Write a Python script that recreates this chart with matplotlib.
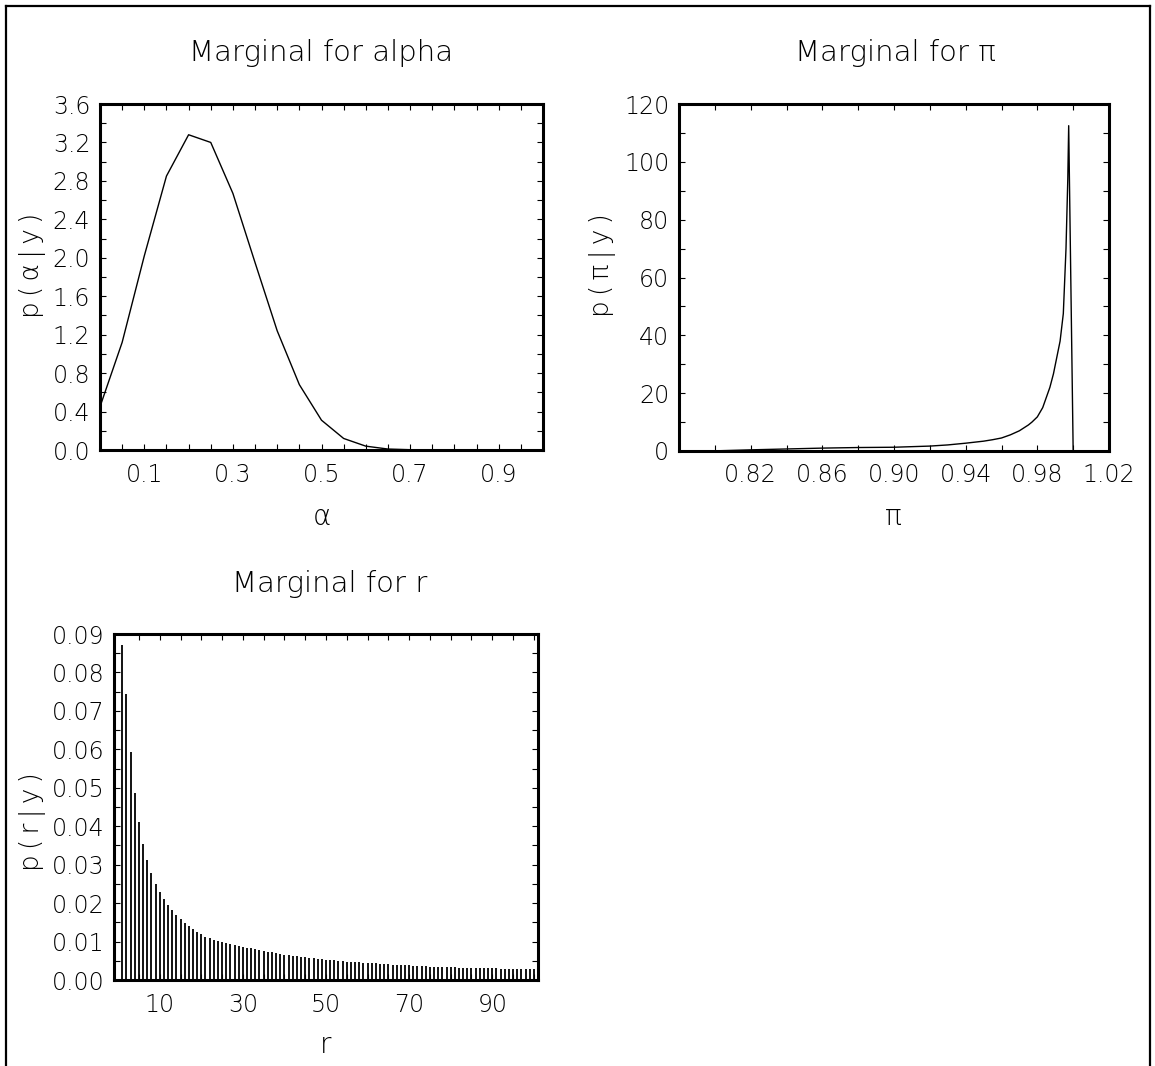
import numpy as np
import matplotlib
matplotlib.use('Agg')
import matplotlib.pyplot as plt
from matplotlib.lines import Line2D

plt.rcParams['font.family'] = ['DejaVu Sans']
plt.rcParams['font.weight'] = 'light'

# marginal for alpha
alpha = [0.0, 0.05, 0.10, 0.15, 0.20, 0.25, 0.30, 0.35, 0.40, 0.45, 0.50,
         0.55, 0.60, 0.65, 0.70, 0.75, 0.80, 0.85, 0.90, 0.95, 1.0]
p_alpha = [0.45, 1.12, 2.02, 2.85, 3.28, 3.20, 2.67, 1.95, 1.24, 0.68, 0.31,
           0.12, 0.04, 0.01, 0.003, 0.001, 0.0, 0.0, 0.0, 0.0, 0.0]

# marginal for pi
pi_vals = [0.800, 0.820, 0.840, 0.860, 0.880, 0.900, 0.920, 0.930, 0.940, 0.950,
           0.955, 0.960, 0.965, 0.970, 0.975, 0.977, 0.980, 0.983, 0.985, 0.987,
           0.989, 0.9927, 0.9945, 0.996, 0.997, 0.9975, 1.000]
p_pi = [0.05, 0.4, 0.7, 1.0, 1.2, 1.3, 1.7, 2.1, 2.7, 3.4,
        3.9, 4.5, 5.6, 7.0, 9.0, 10.0, 11.8, 15.0, 18.5, 22.0,
        26.7, 38.0, 47.5, 70.0, 94.0, 112.5, 0.0]

# marginal for r
r_vals = list(range(1, 101))
p_r = [0.0871, 0.0744, 0.0592, 0.0486, 0.0410, 0.0354, 0.0312, 0.0278, 0.0251, 0.0228,
       0.0210, 0.0194, 0.0182, 0.0168, 0.0158, 0.0148, 0.0141, 0.0133, 0.0125, 0.0119,
       0.0113, 0.0108, 0.0105, 0.0102, 0.0099, 0.0096, 0.0093, 0.0091, 0.0089, 0.0087,
       0.0084, 0.0082, 0.0080, 0.0078, 0.0076, 0.0074, 0.0072, 0.0070, 0.0068, 0.0066,
       0.0065, 0.0063, 0.0062, 0.0060, 0.0059, 0.0058, 0.0056, 0.0055, 0.0054, 0.0053,
       0.0052, 0.0051, 0.0050, 0.0049, 0.0048, 0.0047, 0.0047, 0.0046, 0.0045, 0.0044,
       0.0044, 0.0043, 0.0042, 0.0042, 0.0041, 0.0040, 0.0040, 0.0039, 0.0039, 0.0038,
       0.0037, 0.0037, 0.0036, 0.0036, 0.0035, 0.0035, 0.0034, 0.0034, 0.0034, 0.0033,
       0.0033, 0.0032, 0.0032, 0.0032, 0.0031, 0.0031, 0.0031, 0.0030, 0.0030, 0.0030,
       0.0030, 0.0029, 0.0029, 0.0029, 0.0029, 0.0028, 0.0028, 0.0028, 0.0028, 0.0028]

W, H = 1155, 1066
fig = plt.figure(figsize=(W / 100, H / 100), dpi=100)

TICK_FS = 17
TITLE_FS = 21
LABEL_FS = 20
YLAB_FS = 19
TS = '\u2009'  # thin space, the original font is widely spaced


def px_text(x, y, s, **kw):
    # place text by pixel position (from top-left)
    fig.text(x / W, 1 - y / H, s, ha='center', va='center', fontweight='light', **kw)


def spaced(s):
    return TS.join(s)


def make_ax(l, t, r, b):
    # pixel box -> figure fraction
    ax = fig.add_axes([l / W, 1 - b / H, (r - l) / W, (b - t) / H])
    for s in ax.spines.values():
        s.set_linewidth(2.2)
    ax.tick_params(direction='in', top=True, right=True, length=4, width=0.8,
                   labelsize=TICK_FS)
    ax.tick_params(axis='x', pad=9)
    ax.tick_params(axis='y', pad=7)
    return ax


def set_ticks(ax, axis, pos, labelled, fmt):
    labels = [fmt % p if any(abs(p - q) < 1e-9 for q in labelled) else '' for p in pos]
    if axis == 'x':
        ax.set_xticks(pos)
        ax.set_xticklabels(labels)
    else:
        ax.set_yticks(pos)
        ax.set_yticklabels(labels)


# %% alpha
ax1 = make_ax(100, 104, 543, 450)
ax1.plot(alpha, p_alpha, '-k', lw=1.0)
ax1.set_xlim(0, 1.0)
ax1.set_ylim(0, 3.6)
set_ticks(ax1, 'x', np.arange(0.05, 1.0, 0.05), [0.1, 0.3, 0.5, 0.7, 0.9], '%.1f')
set_ticks(ax1, 'y', np.arange(0, 3.61, 0.2), np.arange(0, 3.61, 0.4), '%.1f')
px_text(321, 53, 'Marginal for alpha', fontsize=TITLE_FS)
px_text(322, 517, 'α', fontsize=LABEL_FS)
px_text(32, 265, spaced('p(α|y)'), fontsize=YLAB_FS, rotation=90)

# %% pi
ax2 = make_ax(679, 104, 1109, 451)
ax2.plot(pi_vals, p_pi, '-k', lw=1.0)
ax2.set_xlim(0.78, 1.02)
ax2.set_ylim(0, 120)
set_ticks(ax2, 'x', np.arange(0.80, 1.021, 0.02), [0.82, 0.86, 0.90, 0.94, 0.98, 1.02], '%.2f')
set_ticks(ax2, 'y', np.arange(0, 121, 10), np.arange(0, 121, 20), '%d')
px_text(895, 53, 'Marginal for π', fontsize=TITLE_FS)
px_text(893, 517, 'π', fontsize=LABEL_FS)
px_text(603, 265, spaced('p(π|y)'), fontsize=YLAB_FS, rotation=90)

# %% r
ax3 = make_ax(114, 634, 538, 980)
ax3.vlines(r_vals, 0, p_r, color='k', lw=1.3)
ax3.set_xlim(-1, 101)
ax3.set_ylim(0, 0.09)
set_ticks(ax3, 'x', np.arange(5, 101, 5), [10, 30, 50, 70, 90], '%d')
set_ticks(ax3, 'y', np.arange(0, 0.0901, 0.005), np.arange(0, 0.0901, 0.01), '%.2f')
px_text(330, 584, 'Marginal for r', fontsize=TITLE_FS)
px_text(326, 1045, 'r', fontsize=LABEL_FS)
px_text(32, 822, spaced('p(r|y)'), fontsize=YLAB_FS, rotation=90)

# outer frame (open at the bottom)
for xs, ys in [([6, 6], [6, 1066]), ([6, 1150], [6, 6]), ([1150, 1150], [6, 1066])]:
    fig.add_artist(Line2D([x / W for x in xs], [1 - y / H for y in ys],
                          color='k', lw=1.6, transform=fig.transFigure))

fig.savefig('out.png', dpi=100)
